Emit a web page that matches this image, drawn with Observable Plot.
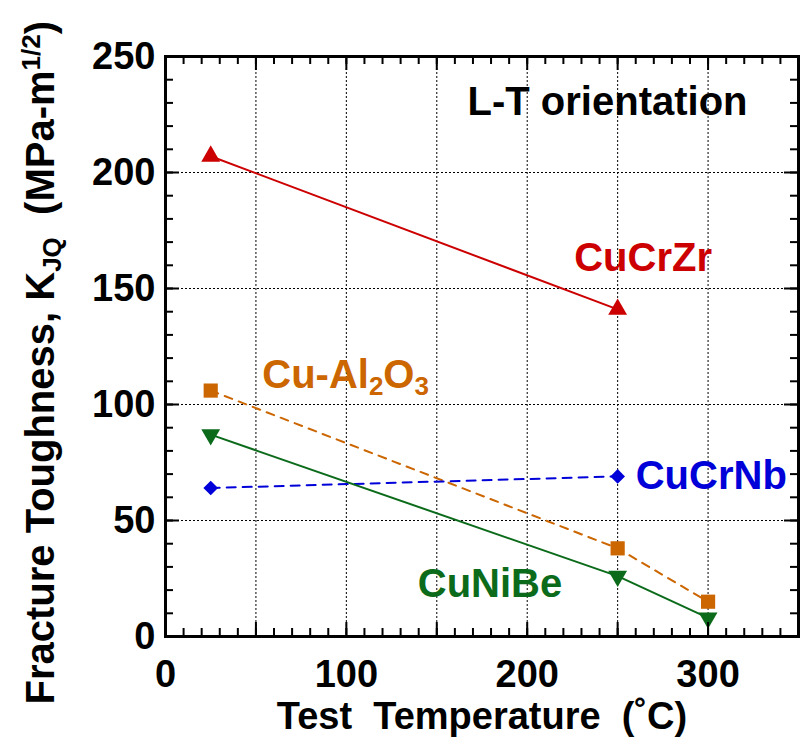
<!DOCTYPE html>
<html>
<head>
<meta charset="utf-8">
<script src="https://cdn.jsdelivr.net/npm/d3@7"></script>
<script src="https://cdn.jsdelivr.net/npm/@observablehq/plot@0.6"></script>
<style>
  html, body { margin: 0; padding: 0; background: #fff; }
  #chart svg { display: block; }
</style>
</head>
<body>
<div id="chart"></div>
<script>
// ---- Data ----
const seriesNames = ["CuCrZr", "Cu-Al2O3", "CuCrNb", "CuNiBe"];
const cuCrZrTemp = [25, 250];
const cuCrZrK = [207, 141];
const cuAl2O3Temp = [25, 250, 300];
const cuAl2O3K = [106, 38, 15];
const cuCrNbTemp = [25, 250];
const cuCrNbK = [64, 69];
const cuNiBeTemp = [25, 250, 300];
const cuNiBeK = [87, 26, 8];

// ticks
const xLabelTicks = [0, 100, 200, 300];
const yLabelTicks = [0, 50, 100, 150, 200, 250];
const xGridTicks = [50, 100, 150, 200, 250, 300];
const yGridTicks = [50, 100, 150, 200];
const xMajorTicks = [0, 50, 100, 150, 200, 250, 300, 350];
const yMajorTicks = [0, 50, 100, 150, 200, 250];
const xMinorTicks = d3.range(0, 351, 10);
const yMinorTicks = d3.range(0, 251, 10);

// texts (pieces: [text, kind] where kind is sub/sup for small shifted text)
const plainAnnotations = ["L-T orientation", "CuCrZr", "CuCrNb", "CuNiBe"];
const alumPieces = [["Cu-Al"], ["2", "sub"], ["O"], ["3", "sub"]];
const xTitle = "Test\u00a0 Temperature\u00a0 (\u02daC)";
const yTitlePieces = [["Fracture Toughness, K"], ["JQ", "sub"], ["\u00a0 (MPa-m"], ["1/2", "sup"], [")"]];

// ---- Styles / layout ----
const W = 801, H = 739;
const M = {left: 165, right: 3, top: 56, bottom: 103};
const frameW = W - M.left - M.right;
const frameH = H - M.top - M.bottom;

const seriesStyle = {
  "CuCrZr":   {color: "#cc0000", dash: null,  symbol: "up",      r: 7},
  "Cu-Al2O3": {color: "#cc6600", dash: "8,7", symbol: "square",  r: 8},
  "CuCrNb":   {color: "#0000d8", dash: "9,7", symbol: "diamond", r: 6.6},
  "CuNiBe":   {color: "#0b6b1a", dash: null,  symbol: "down",    r: 7}
};
const plainAnnotationStyle = [
  {x: 167, y: 225, color: "#000000"},
  {x: 226, y: 157.5, color: "#cc0000"},
  {x: 260, y: 63.5, color: "#0000d8"},
  {x: 139.5, y: 17, color: "#0b6b1a"}
];
const alumStyle = {x: 53.5, y: 107, color: "#cc6600"};

const sqrt3 = Math.sqrt(3);
const triDown = {
  draw(context, size) {
    const y = -Math.sqrt(size / (sqrt3 * 3));
    context.moveTo(0, -y * 2);
    context.lineTo(-sqrt3 * y, y);
    context.lineTo(sqrt3 * y, y);
    context.closePath();
  }
};
const symbolFor = {up: "triangle", down: triDown, square: "square", diamond: "diamond2"};

const seriesData = {
  "CuCrZr": [cuCrZrTemp, cuCrZrK],
  "Cu-Al2O3": [cuAl2O3Temp, cuAl2O3K],
  "CuCrNb": [cuCrNbTemp, cuCrNbK],
  "CuNiBe": [cuNiBeTemp, cuNiBeK]
};

const font = "'Liberation Sans', Arial, Helvetica, sans-serif";
const ctx = document.createElement("canvas").getContext("2d");
function measure(str, size) {
  ctx.font = `bold ${size}px ${font}`;
  return ctx.measureText(str).width;
}
// lay out a rich-text run: returns [{text, size, along, shift}]
function layoutPieces(pieces, size) {
  let along = 0;
  return pieces.map(([text, kind]) => {
    const s = kind ? size * 0.65 : size;
    const shift = kind === "sub" ? 7 : kind === "sup" ? -14 : 0;
    const out = {text, size: s, along, shift};
    along += measure(text, s);
    return out;
  });
}

const gridStyle = {stroke: "#000", strokeOpacity: 1, strokeWidth: 1, strokeDasharray: "2,2"};

const marks = [
  Plot.gridX(xGridTicks, gridStyle),
  Plot.gridY(yGridTicks, gridStyle)
];

// series lines then markers
for (const name of seriesNames) {
  const [T, K] = seriesData[name];
  const rows = T.map((t, i) => ({t, k: K[i]}));
  const s = seriesStyle[name];
  marks.push(Plot.line(rows, {x: "t", y: "k", stroke: s.color, strokeWidth: 2, strokeDasharray: s.dash}));
}
for (const name of seriesNames) {
  const [T, K] = seriesData[name];
  const rows = T.map((t, i) => ({t, k: K[i]}));
  const s = seriesStyle[name];
  marks.push(Plot.dot(rows, {x: "t", y: "k", symbol: symbolFor[s.symbol], r: s.r, fill: s.color, stroke: "none"}));
}

// inward ticks on all four sides
const tickStroke = {stroke: "#000", strokeWidth: 2};
for (const [ticks, len] of [[xMinorTicks, 8], [xMajorTicks, 14]]) {
  marks.push(Plot.tickX(ticks, {...tickStroke, x: d => d, insetTop: frameH - len}));
  marks.push(Plot.tickX(ticks, {...tickStroke, x: d => d, insetBottom: frameH - len}));
}
for (const [ticks, len] of [[yMinorTicks, 8], [yMajorTicks, 14]]) {
  marks.push(Plot.tickY(ticks, {...tickStroke, y: d => d, insetRight: frameW - len}));
  marks.push(Plot.tickY(ticks, {...tickStroke, y: d => d, insetLeft: frameW - len}));
}

// tick labels
marks.push(Plot.axisX(xLabelTicks, {anchor: "bottom", tickSize: 0, tickPadding: 24, label: null,
  fontSize: 38, fontWeight: "bold", fill: "#000", tickFormat: d => String(d)}));
marks.push(Plot.axisY(yLabelTicks, {anchor: "left", tickSize: 0, tickPadding: 10, label: null,
  fontSize: 38, fontWeight: "bold", fill: "#000", tickFormat: d => String(d)}));

// x title
marks.push(Plot.text([xTitle], {text: d => d, frameAnchor: "bottom", dy: 92, lineAnchor: "bottom",
  fontSize: 38, fontWeight: "bold", fill: "#000"}));

// y title (rotated, rich text in pieces)
for (const p of layoutPieces(yTitlePieces, 40)) {
  marks.push(Plot.text([p.text], {text: d => d, frameAnchor: "bottom-left", rotate: -90,
    dx: -112 + p.shift, dy: 68 - p.along, textAnchor: "start", lineAnchor: "bottom",
    fontSize: p.size, fontWeight: "bold", fill: "#000"}));
}

// plain annotations
const annRows = plainAnnotations.map((label, i) => ({label, ...plainAnnotationStyle[i]}));
marks.push(Plot.text(annRows, {x: "x", y: "y", text: "label", fill: d => d.color, textAnchor: "start",
  lineAnchor: "bottom", fontSize: 40, fontWeight: "bold"}));

// Cu-Al2O3 annotation with subscripts
for (const p of layoutPieces(alumPieces, 40)) {
  marks.push(Plot.text([alumStyle], {x: "x", y: "y", text: () => p.text, fill: alumStyle.color,
    dx: p.along, dy: p.shift, textAnchor: "start", lineAnchor: "bottom",
    fontSize: p.size, fontWeight: "bold"}));
}

marks.push(Plot.frame({stroke: "#000", strokeWidth: 3}));

const chart = Plot.plot({
  width: W,
  height: H,
  marginLeft: M.left,
  marginRight: M.right,
  marginTop: M.top,
  marginBottom: M.bottom,
  x: {domain: [0, 350]},
  y: {domain: [0, 250]},
  color: {type: "identity"},
  style: {fontFamily: font, background: "#fff", color: "#000"},
  marks
});

document.getElementById("chart").appendChild(chart);
</script>
</body>
</html>
